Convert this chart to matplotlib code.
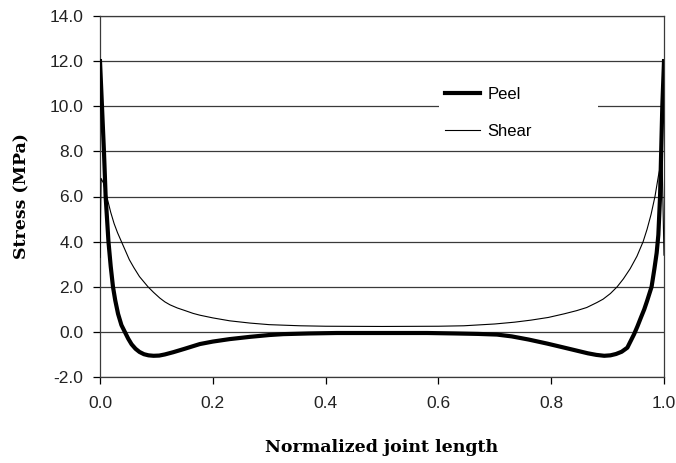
import numpy as np
import matplotlib
matplotlib.use('Agg')
import matplotlib.pyplot as plt
from matplotlib.patches import Rectangle

# peel stress along the joint (MPa)
peel_x = [0.0, 0.0035, 0.007, 0.010, 0.015, 0.019, 0.023, 0.027, 0.032, 0.038, 0.044,
          0.050, 0.056, 0.063, 0.070, 0.078, 0.086, 0.095, 0.105, 0.115, 0.130, 0.150,
          0.177, 0.200, 0.230, 0.266, 0.300, 0.325, 0.370, 0.420, 0.500, 0.580, 0.630,
          0.670, 0.704, 0.730, 0.760, 0.793, 0.820, 0.845, 0.865, 0.880, 0.894, 0.905,
          0.915, 0.925, 0.935, 0.941, 0.947, 0.953, 0.959, 0.965, 0.970, 0.978, 0.983,
          0.987, 0.990, 0.993, 0.995, 0.997, 1.0]
peel_y = [12.0, 10.0, 8.0, 6.0, 4.0, 2.9, 2.0, 1.4, 0.8, 0.3, 0.0,
          -0.3, -0.55, -0.75, -0.89, -0.99, -1.04, -1.06, -1.05, -1.0, -0.9, -0.75,
          -0.54, -0.43, -0.32, -0.22, -0.14, -0.10, -0.07, -0.05, -0.05, -0.05, -0.07,
          -0.09, -0.12, -0.2, -0.34, -0.52, -0.68, -0.83, -0.95, -1.02, -1.06, -1.04,
          -0.98, -0.88, -0.7, -0.4, -0.1, 0.25, 0.63, 1.0, 1.37, 2.0, 2.8,
          3.5, 4.3, 6.0, 8.0, 10.0, 12.0]

# shear stress along the joint (MPa)
shear_x = [0.0, 0.002, 0.006, 0.010, 0.014, 0.019, 0.025, 0.031, 0.038, 0.045, 0.052,
           0.060, 0.070, 0.085, 0.095, 0.106, 0.115, 0.124, 0.137, 0.150, 0.165, 0.177,
           0.200, 0.230, 0.266, 0.300, 0.355, 0.400, 0.500, 0.600, 0.645, 0.700, 0.735,
           0.764, 0.795, 0.823, 0.845, 0.863, 0.881, 0.892, 0.905, 0.917, 0.928, 0.940,
           0.952, 0.963, 0.970, 0.977, 0.984, 0.990, 0.9965, 1.0]
shear_y = [3.3, 6.8, 6.6, 6.2, 5.8, 5.3, 4.8, 4.4, 4.0, 3.6, 3.2,
           2.85, 2.45, 2.0, 1.75, 1.5, 1.33, 1.2, 1.06, 0.95, 0.82, 0.74,
           0.62, 0.49, 0.39, 0.32, 0.27, 0.25, 0.24, 0.25, 0.27, 0.35, 0.43,
           0.52, 0.64, 0.8, 0.94, 1.08, 1.3, 1.45, 1.7, 2.0, 2.35, 2.8,
           3.35, 4.0, 4.55, 5.2, 6.0, 6.9, 7.7, 3.4]

y_ticks = np.arange(-2, 14.1, 2)
x_ticks = np.arange(0, 1.01, 0.2)

fig = plt.figure(figsize=(6.76, 4.63), dpi=100)
ax = fig.add_axes([100/676, 86/463, 564/676, 361/463])

for yv in y_ticks:
    ax.axhline(yv, color='#3a3a3a', lw=0.9, zorder=1)

# legend background hides the gridline like the original
ax.add_patch(Rectangle((0.601, 0.637), 0.282, 0.197, transform=ax.transAxes,
                       facecolor='white', edgecolor='none', zorder=2))

ax.plot(peel_x, peel_y, color='black', lw=3.0, label='Peel', zorder=3,
        solid_joinstyle='round')
ax.plot(shear_x, shear_y, color='black', lw=0.8, label='Shear', zorder=3)

ax.set_xlim(0, 1)
ax.set_ylim(-2, 14)
ax.set_yticks(y_ticks)
ax.set_yticklabels([f'{v:.1f}' for v in y_ticks])
ax.set_xticks(x_ticks)
ax.set_xticklabels([f'{v:.1f}' for v in x_ticks])
ax.tick_params(axis='y', direction='out', length=5, width=0.9, pad=7, labelsize=12.5)
ax.tick_params(axis='x', direction='out', length=5, width=0.9, pad=9, labelsize=12.5)
for lab in ax.get_xticklabels() + ax.get_yticklabels():
    lab.set_family('Liberation Sans')
    lab.set_color('#222222')
for s in ax.spines.values():
    s.set_linewidth(0.9)
    s.set_color('#3a3a3a')

ax.set_xlabel('Normalized joint length', family='DejaVu Serif', fontweight='bold',
              fontsize=12.5, labelpad=20)
ax.set_ylabel('Stress (MPa)', family='DejaVu Serif', fontweight='bold',
              fontsize=12.5, labelpad=14)

leg = ax.legend(loc='center left', bbox_to_anchor=(0.612, 0.731), frameon=False,
                borderpad=0, borderaxespad=0, handlelength=2.1, handletextpad=0.45,
                labelspacing=1.3, prop={'family': 'Liberation Sans', 'size': 12})
leg.set_zorder(4)

fig.savefig('out.png', dpi=100)
